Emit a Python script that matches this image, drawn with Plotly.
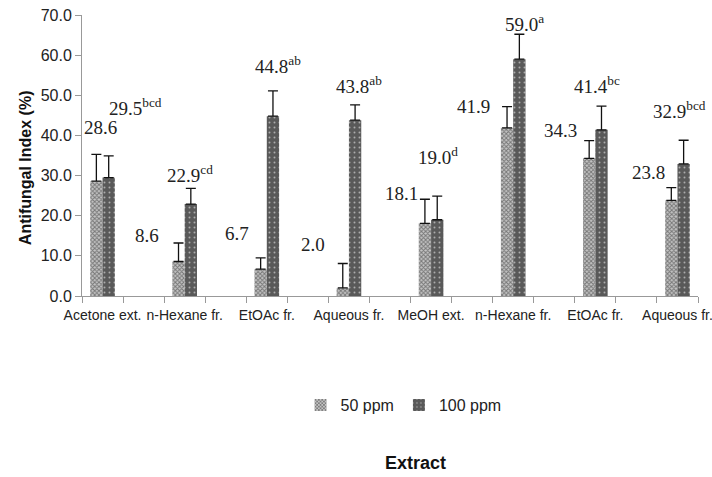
import plotly.graph_objects as go

# ---- data ----
categories = ["Acetone ext.", "n-Hexane fr.", "EtOAc fr.", "Aqueous fr.",
              "MeOH ext.", "n-Hexane fr.", "EtOAc fr.", "Aqueous fr."]
ppm50 = [28.6, 8.6, 6.7, 2.0, 18.1, 41.9, 34.3, 23.8]
ppm100 = [29.5, 22.9, 44.8, 43.8, 19.0, 59.0, 41.4, 32.9]
err50 = [6.7, 4.6, 2.8, 6.1, 6.0, 5.3, 4.4, 3.2]
err100 = [5.4, 3.9, 6.3, 3.8, 5.9, 6.2, 5.9, 5.9]
letters100 = ["bcd", "cd", "ab", "ab", "d", "a", "bc", "bcd"]
y_ticks = [0, 10, 20, 30, 40, 50, 60, 70]

# ---- label placement (layout, in axis units) ----
lab50_pos = [(-0.03, 42.1), (0.54, 15.1), (1.643, 15.6), (2.56, 12.9),
             (3.634, 25.6), (4.52, 47.1), (5.58, 41.3), (6.65, 30.8)]
lab100_pos = [(0.40, 47.1), (1.06, 30.5), (2.14, 57.5), (3.12, 52.6),
              (4.09, 34.8), (5.14, 68.0), (6.02, 52.5), (7.02, 46.3)]

xs = list(range(len(categories)))
SANS = "Liberation Sans, Arial, sans-serif"
SERIF = "Liberation Serif, Times New Roman, serif"

fig = go.Figure()
fig.add_trace(go.Bar(
    name="50 ppm", x=xs, y=ppm50,
    marker=dict(color="#9a9a9a", line=dict(width=0),
                pattern=dict(shape="x", size=3, solidity=0.55,
                             fgcolor="#2a2a2a", bgcolor="#c4c4c4")),
    error_y=dict(type="data", symmetric=False, array=err50,
                 arrayminus=[0] * len(err50), color="#111",
                 thickness=1.3, width=5),
))
fig.add_trace(go.Bar(
    name="100 ppm", x=xs, y=ppm100,
    marker=dict(color="#595959", line=dict(width=0),
                pattern=dict(shape=".", size=5, solidity=0.12,
                             fgcolor="#ffffff", bgcolor="#595959")),
    error_y=dict(type="data", symmetric=False, array=err100,
                 arrayminus=[0] * len(err100), color="#111",
                 thickness=1.3, width=5),
))

annotations = []
for v, (lx, ly) in zip(ppm50, lab50_pos):
    annotations.append(dict(x=lx, y=ly, xref="x", yref="y", text=f"{v:.1f}",
                            showarrow=False, xanchor="center", yanchor="middle",
                            font=dict(family=SERIF, size=19, color="#222")))
for v, s, (lx, ly) in zip(ppm100, letters100, lab100_pos):
    annotations.append(dict(x=lx, y=ly, xref="x", yref="y",
                            text=f"{v:.1f}<sup>{s}</sup>",
                            showarrow=False, xanchor="center", yanchor="middle",
                            font=dict(family=SERIF, size=19, color="#222")))
annotations.append(dict(x=0.542, y=-0.594, xref="paper", yref="paper",
                        text="<b>Extract</b>", showarrow=False,
                        xanchor="center", yanchor="middle",
                        font=dict(family=SANS, size=18, color="#111")))
annotations.append(dict(x=-0.0925, y=0.455, xref="paper", yref="paper",
                        text="<b>Antifungal Index (%)</b>", showarrow=False,
                        textangle=-90, xanchor="center", yanchor="middle",
                        font=dict(family=SANS, size=16, color="#111")))

fig.update_layout(
    width=712, height=477,
    margin=dict(l=82, r=14, t=15, b=181, autoexpand=False),
    paper_bgcolor="white", plot_bgcolor="white",
    barmode="group", bargap=0.70, bargroupgap=0,
    showlegend=True,
    legend=dict(orientation="h", x=0.522, y=-0.388, xanchor="center",
                yanchor="middle", font=dict(family=SANS, size=16, color="#222"),
                itemwidth=30, tracegroupgap=0),
    annotations=annotations,
    xaxis=dict(range=[-0.25, 7.25], tickmode="array", tickvals=xs,
               ticktext=categories, ticks="", showgrid=False, zeroline=False,
               showline=True, linecolor="#999", linewidth=1, tickangle=0,
               automargin=False, ticklabelstandoff=6,
               ticklabeloverflow="allow",
               tickfont=dict(family=SANS, size=14, color="#222"),
               minor=dict(tickmode="array",
                          tickvals=[-0.25 + 0.5 * i for i in range(17)],
                          ticks="outside", ticklen=6, tickcolor="#999",
                          showgrid=False)),
    yaxis=dict(range=[0, 70], tickmode="array", tickvals=y_ticks,
               ticktext=[f"{t:.1f}" for t in y_ticks],
               ticks="outside", ticklen=6, tickcolor="#999",
               showgrid=False, zeroline=False, showline=True,
               linecolor="#999", linewidth=1, automargin=False,
               ticklabeloverflow="allow",
               tickfont=dict(family=SANS, size=16, color="#222")),
)

fig.write_html("out.html", config={"displayModeBar": False},
               post_script="document.body.style.margin='0';"
                           "document.body.style.padding='0';")
